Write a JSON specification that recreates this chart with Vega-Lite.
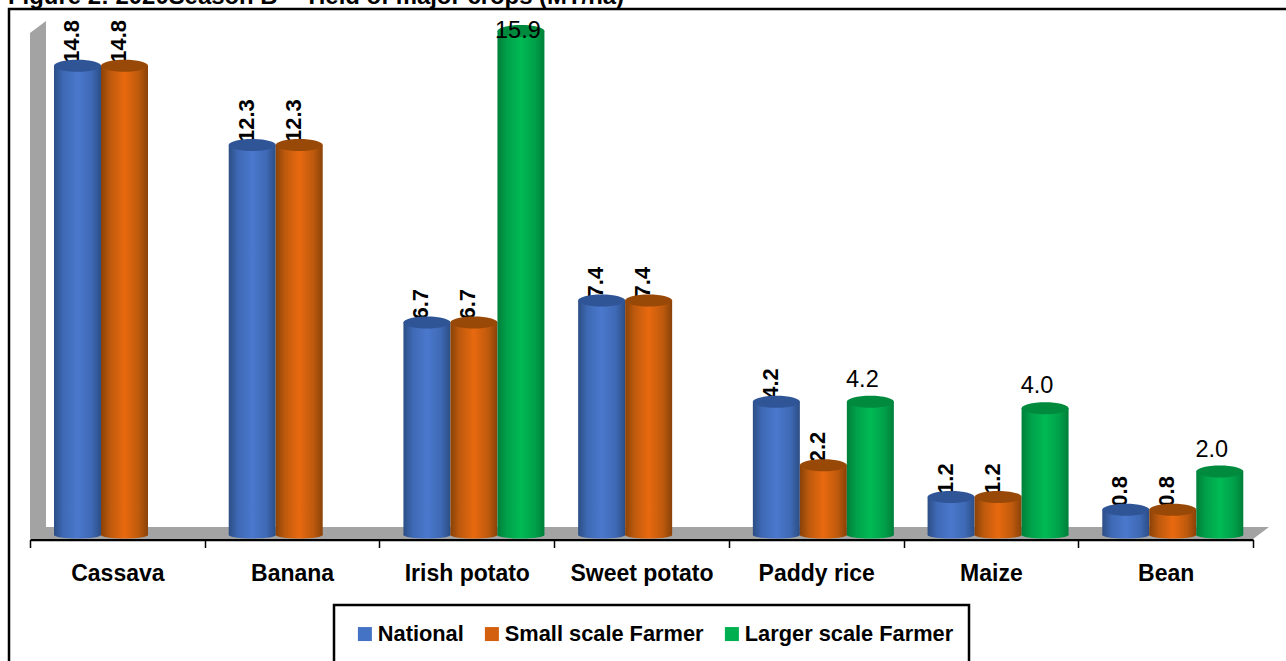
{
"$schema":"https://vega.github.io/schema/vega-lite/v6.json",
"width":1278,"height":652,"autosize":"none","padding":{"left":8,"top":9,"right":0,"bottom":0},
"background":"white",
"config":{"view":{"stroke":null},"font":"Liberation Sans"},
"data":{"values":[
{"category":"Cassava","series":"National","value":14.8},{"category":"Cassava","series":"Small scale Farmer","value":14.8},
{"category":"Banana","series":"National","value":12.3},{"category":"Banana","series":"Small scale Farmer","value":12.3},
{"category":"Irish potato","series":"National","value":6.7},{"category":"Irish potato","series":"Small scale Farmer","value":6.7},{"category":"Irish potato","series":"Larger scale Farmer","value":15.9},
{"category":"Sweet potato","series":"National","value":7.4},{"category":"Sweet potato","series":"Small scale Farmer","value":7.4},
{"category":"Paddy rice","series":"National","value":4.2},{"category":"Paddy rice","series":"Small scale Farmer","value":2.2},{"category":"Paddy rice","series":"Larger scale Farmer","value":4.2},
{"category":"Maize","series":"National","value":1.2},{"category":"Maize","series":"Small scale Farmer","value":1.2},{"category":"Maize","series":"Larger scale Farmer","value":4.0},
{"category":"Bean","series":"National","value":0.8},{"category":"Bean","series":"Small scale Farmer","value":0.8},{"category":"Bean","series":"Larger scale Farmer","value":2.0}
]},
"encoding":{
"x":{"field":"category","type":"nominal","title":null,"scale":{"domain":["Cassava","Banana","Irish potato","Sweet potato","Paddy rice","Maize","Bean"],"range":[22,1245],"paddingInner":0,"paddingOuter":0},
"axis":{"orient":"bottom","offset":-121.5,"labelAngle":0,"labelFont":"Liberation Sans","labelFontSize":23,"labelFontWeight":"bold","labelColor":"black","labelPadding":15,"tickSize":8,"tickColor":"black","tickWidth":1.5,"tickBand":"extent","domainColor":"black","domainWidth":2.5,"grid":false,"labelBaseline":"top"}},
"y":{"field":"value","type":"quantitative","title":null,"axis":null,"scale":{"domain":[0,16.593],"range":[526,0],"nice":false}}
},
"layer":[
{"transform":[{"filter":"datum.category==='Cassava' && datum.series==='National'"}],
 "mark":{"type":"text","text":"Figure 2: 2020Season B – Yield of major crops (MT/ha)","align":"left","baseline":"alphabetic","dx":-109.35,"dy":-5,"font":"Liberation Sans","fontSize":23.9,"fontWeight":"bold","color":"black"},
 "encoding":{"y":{"datum":16.593}}},
{"transform":[{"filter":"datum.category==='Cassava' && datum.series==='National'"}],
 "mark":{"type":"point","shape":"M-108.35,-526 L1300,-526 L1300,165 L-108.35,165 Z","size":4,"filled":false,"stroke":"black","strokeWidth":2.5,"opacity":1},
 "encoding":{"y":{"datum":0}}},
{"transform":[{"filter":"datum.category==='Cassava' && datum.series==='National'"}],
 "mark":{"type":"point","shape":"M-87.35,-502 L-71.35,-514 L-71.35,-8 L-87.35,4 Z M-87.35,4 L-71.35,-8 L1151.65,-8 L1135.65,4 Z","size":4,"filled":true,"fill":"#A3A3A3","stroke":null,"opacity":1},
 "encoding":{"y":{"datum":0}}},
{"transform":[{"filter":"datum.category==='Cassava' && datum.series==='National'"}],
 "mark":{"type":"point","shape":"M216.65,70 L851.65,70 L851.65,165 L216.65,165 Z","size":4,"filled":true,"fill":"white","stroke":"black","strokeWidth":2.5,"opacity":1},
 "encoding":{"y":{"datum":0}}},
{"encoding":{"xOffset":{"field":"series","type":"nominal","scale":{"domain":["National","Small scale Farmer","Larger scale Farmer"],"range":[24,165],"paddingInner":0,"paddingOuter":0}}},
 "layer":[
 {"mark":{"type":"point","size":0,"filled":true,"opacity":1,"shape":"square"},
  "encoding":{"fill":{"field":"series","type":"nominal","title":null,"scale":{"domain":["National","Small scale Farmer","Larger scale Farmer"],"range":["#4472C4","#D2600F","#00B050"]},
   "legend":{"orient":"none","legendX":346,"legendY":614,"direction":"horizontal","columns":3,"title":null,"symbolType":"square","symbolSize":196,"symbolStrokeWidth":0,"labelFont":"Liberation Sans","labelFontSize":21.8,"labelFontWeight":"bold","labelColor":"black","labelOffset":2,"columnPadding":17,"labelLimit":400,"padding":0}}}},
 {"transform":[{"filter":"datum.series!=='Larger scale Farmer'"}],
  "mark":{"type":"text","angle":270,"align":"left","baseline":"middle","dy":-5.5,"dx":3,"font":"Liberation Sans","fontSize":22,"fontWeight":"bold","color":"black"},
  "encoding":{"text":{"field":"value","type":"quantitative","format":".1f"}}},
 {"transform":[{"filter":"datum.series==='National'"}],"layer":[
  {"mark":{"type":"point","shape":"M-23.5,0 A23.5,3.5 0 1,0 23.5,0 A23.5,3.5 0 1,0 -23.5,0 Z","size":4,"filled":true,"opacity":1,"stroke":null,"fill":{"gradient":"linear","x1":0,"x2":1,"y1":0,"y2":0,"stops":[{"offset":0,"color":"#2C4E85"},{"offset":0.2,"color":"#3E69B5"},{"offset":0.5,"color":"#4A78CC"},{"offset":0.8,"color":"#3E69B5"},{"offset":1,"color":"#2C4E85"}]}},"encoding":{"y":{"datum":0}}},
  {"mark":{"type":"bar","fill":{"gradient":"linear","x1":0,"x2":1,"y1":0,"y2":0,"stops":[{"offset":0,"color":"#2C4E85"},{"offset":0.2,"color":"#3E69B5"},{"offset":0.5,"color":"#4A78CC"},{"offset":0.8,"color":"#3E69B5"},{"offset":1,"color":"#2C4E85"}]}}},
  {"mark":{"type":"point","shape":"M-23.5,0 A23.5,6 0 1,0 23.5,0 A23.5,6 0 1,0 -23.5,0 Z","size":4,"filled":true,"opacity":1,"stroke":null,"fill":"#2F5597"}}
 ]},
 {"transform":[{"filter":"datum.series==='Small scale Farmer'"}],"layer":[
  {"mark":{"type":"point","shape":"M-23.5,0 A23.5,3.5 0 1,0 23.5,0 A23.5,3.5 0 1,0 -23.5,0 Z","size":4,"filled":true,"opacity":1,"stroke":null,"fill":{"gradient":"linear","x1":0,"x2":1,"y1":0,"y2":0,"stops":[{"offset":0,"color":"#8A4208"},{"offset":0.2,"color":"#BE5A0D"},{"offset":0.5,"color":"#E8690F"},{"offset":0.8,"color":"#BE5A0D"},{"offset":1,"color":"#8A4208"}]}},"encoding":{"y":{"datum":0}}},
  {"mark":{"type":"bar","fill":{"gradient":"linear","x1":0,"x2":1,"y1":0,"y2":0,"stops":[{"offset":0,"color":"#8A4208"},{"offset":0.2,"color":"#BE5A0D"},{"offset":0.5,"color":"#E8690F"},{"offset":0.8,"color":"#BE5A0D"},{"offset":1,"color":"#8A4208"}]}}},
  {"mark":{"type":"point","shape":"M-23.5,0 A23.5,6 0 1,0 23.5,0 A23.5,6 0 1,0 -23.5,0 Z","size":4,"filled":true,"opacity":1,"stroke":null,"fill":"#984807"}}
 ]},
 {"transform":[{"filter":"datum.series==='Larger scale Farmer'"}],"layer":[
  {"mark":{"type":"point","shape":"M-23.5,0 A23.5,3.5 0 1,0 23.5,0 A23.5,3.5 0 1,0 -23.5,0 Z","size":4,"filled":true,"opacity":1,"stroke":null,"fill":{"gradient":"linear","x1":0,"x2":1,"y1":0,"y2":0,"stops":[{"offset":0,"color":"#007F3A"},{"offset":0.2,"color":"#00A049"},{"offset":0.5,"color":"#00BA55"},{"offset":0.8,"color":"#00A049"},{"offset":1,"color":"#007F3A"}]}},"encoding":{"y":{"datum":0}}},
  {"mark":{"type":"bar","fill":{"gradient":"linear","x1":0,"x2":1,"y1":0,"y2":0,"stops":[{"offset":0,"color":"#007F3A"},{"offset":0.2,"color":"#00A049"},{"offset":0.5,"color":"#00BA55"},{"offset":0.8,"color":"#00A049"},{"offset":1,"color":"#007F3A"}]}}},
  {"mark":{"type":"point","shape":"M-23.5,0 A23.5,6 0 1,0 23.5,0 A23.5,6 0 1,0 -23.5,0 Z","size":4,"filled":true,"opacity":1,"stroke":null,"fill":"#008A3E"}},
  {"transform":[{"filter":"datum.value<10"}],"mark":{"type":"text","baseline":"alphabetic","dy":-15,"dx":-8,"font":"Liberation Sans","fontSize":23.5,"color":"black"},"encoding":{"text":{"field":"value","type":"quantitative","format":".1f"}}},
  {"transform":[{"filter":"datum.value>10"}],"mark":{"type":"text","baseline":"alphabetic","dy":7,"dx":-3,"font":"Liberation Sans","fontSize":23.5,"color":"black"},"encoding":{"text":{"field":"value","type":"quantitative","format":".1f"}}}
 ]}
 ]}
]
}
